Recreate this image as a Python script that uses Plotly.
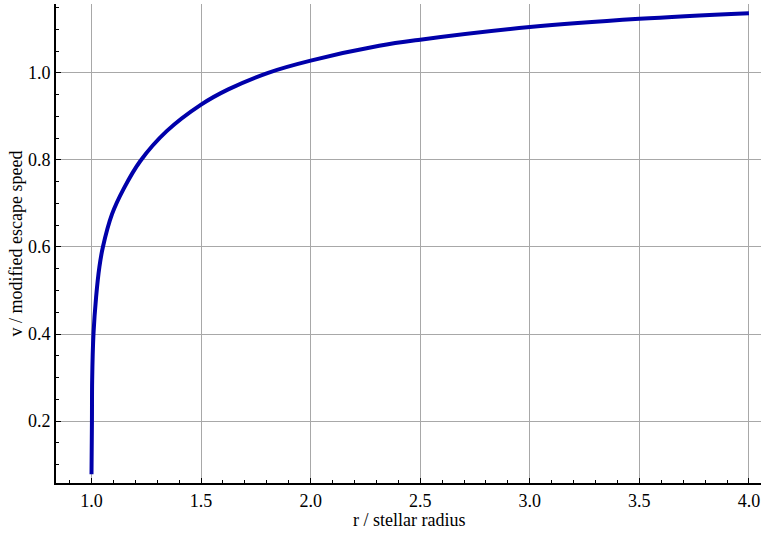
import plotly.graph_objects as go

# r / stellar radius
r_vals = [1.000, 1.002, 1.003, 1.009, 1.021, 1.036, 1.052, 1.094, 1.146,
          1.222, 1.343, 1.500, 1.624, 1.806, 2.000, 2.313, 2.500, 3.000, 3.500, 4.000]
# v / modified escape speed
v_vals = [0.078, 0.200, 0.294, 0.400, 0.485, 0.554, 0.600, 0.676, 0.733,
          0.797, 0.866, 0.927, 0.962, 1.000, 1.028, 1.062, 1.076, 1.105, 1.124, 1.137]

x_ticks = [1.0, 1.5, 2.0, 2.5, 3.0, 3.5, 4.0]
x_tick_labels = ["1.0", "1.5", "2.0", "2.5", "3.0", "3.5", "4.0"]
y_ticks = [0.2, 0.4, 0.6, 0.8, 1.0]
y_tick_labels = ["0.2", "0.4", "0.6", "0.8", "1.0"]

FONT = "Liberation Serif, Times New Roman, serif"
FS = 18
XR = [0.838, 4.055]
YR = [0.058, 1.158]

fig = go.Figure()
fig.add_trace(go.Scatter(
    x=r_vals, y=v_vals, mode="lines",
    line=dict(color="rgb(0,0,170)", width=4, shape="spline", smoothing=1.0),
    showlegend=False, hoverinfo="skip",
))

common = dict(
    showline=True, linecolor="black", linewidth=2,
    ticks="inside", ticklen=5, tickcolor="black", tickwidth=1,
    zeroline=False, automargin=False,
)

fig.update_layout(
    width=761, height=535,
    margin=dict(l=56, r=0, t=4, b=52),
    paper_bgcolor="white", plot_bgcolor="white",
    font=dict(family=FONT, size=FS, color="black"),
    hovermode=False,
    xaxis=dict(
        range=XR, tickvals=x_ticks, ticktext=x_tick_labels,
        showgrid=True, gridcolor="#a8a8a8", gridwidth=1,
        minor=dict(dtick=0.1, tick0=0, ticks="inside", ticklen=3, tickcolor="black", showgrid=False),
        tickfont=dict(family=FONT, size=FS),
        **common,
    ),
    yaxis=dict(
        range=YR, tickvals=y_ticks, ticktext=y_tick_labels,
        showgrid=True, gridcolor="#a8a8a8", gridwidth=1,
        minor=dict(dtick=0.05, tick0=0, ticks="inside", ticklen=3, tickcolor="black", showgrid=False),
        tickfont=dict(family=FONT, size=FS),
        **common,
    ),
    xaxis2=dict(
        range=XR, overlaying="x", side="top", anchor="y",
        tickvals=x_ticks, showticklabels=False, showgrid=False,
        minor=dict(dtick=0.1, tick0=0, ticks="inside", ticklen=3, tickcolor="black", showgrid=False),
        **common,
    ),
    annotations=[
        dict(text="r / stellar radius", xref="paper", yref="paper", x=0.5, y=0,
             xanchor="center", yanchor="middle", yshift=-37, showarrow=False,
             font=dict(family=FONT, size=FS, color="black")),
        dict(text="v / modified escape speed", xref="paper", yref="paper", x=0, y=0.5,
             xanchor="center", yanchor="middle", xshift=-41, textangle=-90, showarrow=False,
             font=dict(family=FONT, size=FS, color="black")),
    ],
)

fig.write_html(
    "out.html",
    config={"displayModeBar": False, "staticPlot": True},
    post_script="document.body.style.margin='0';document.body.style.padding='0';",
)
